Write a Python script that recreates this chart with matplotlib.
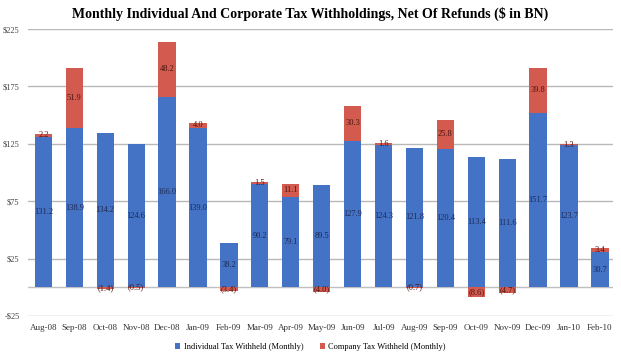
import numpy as np
import matplotlib.pyplot as plt

# monthly withholdings, $ bn
months = ["Aug-08", "Sep-08", "Oct-08", "Nov-08", "Dec-08", "Jan-09", "Feb-09",
          "Mar-09", "Apr-09", "May-09", "Jun-09", "Jul-09", "Aug-09", "Sep-09",
          "Oct-09", "Nov-09", "Dec-09", "Jan-10", "Feb-10"]
individual = [131.2, 138.9, 134.2, 124.6, 166.0, 139.0, 38.2, 90.2, 79.1, 89.5,
              127.9, 124.3, 121.8, 120.4, 113.4, 111.6, 151.7, 123.7, 30.7]
company = [2.2, 51.9, -1.4, -0.5, 48.2, 4.0, -3.4, 1.5, 11.1, -4.0,
           30.3, 1.6, -0.7, 25.8, -8.6, -4.7, 39.8, 1.3, 3.4]
yticks = [-25, 25, 75, 125, 175, 225]
ytick_labels = ["-$25", "$25", "$75", "$125", "$175", "$225"]

plt.rcParams["font.family"] = ["Liberation Serif", "DejaVu Serif"]

blue = "#4472C4"
red = "#D35A4E"

fig = plt.figure(figsize=(6.21, 3.55), dpi=100)
ax = fig.add_axes([0.045, 0.110, 0.942, 0.808])

x = np.arange(len(months))
ind = np.array(individual)
comp = np.array(company)
# excel-style stacking: negatives hang below zero
comp_bottom = np.where(comp >= 0, ind, 0)

ax.bar(x, ind, width=0.56, color=blue, label="Individual Tax Withheld (Monthly)", zorder=2)
ax.bar(x, comp, bottom=comp_bottom, width=0.56, color=red,
       label="Company Tax Withheld (Monthly)", zorder=2)

def fmt(v):
    return "(%.1f)" % abs(v) if v < 0 else "%.1f" % v

for i in range(len(x)):
    ax.text(x[i], ind[i] / 2, fmt(ind[i]), ha="center", va="center",
            fontsize=6, color="#1c2a55", zorder=3)
    ax.text(x[i], comp_bottom[i] + comp[i] / 2, fmt(comp[i]), ha="center",
            va="center", fontsize=6, color="#4a1510", zorder=3)

ax.set_xlim(-0.5, 18.42)
ax.set_ylim(-25, 225)
ax.set_yticks(yticks)
ax.set_yticklabels(ytick_labels, fontsize=6, color="#444444")
ax.set_xticks(x)
ax.set_xticklabels(months, fontsize=6.5, color="#333333")
ax.tick_params(length=0, pad=6)
ax.grid(axis="y", color="#b8b8b8", linewidth=1, zorder=0)
ax.axhline(0, color="#c0c0c0", linewidth=1, zorder=1)
for s in ax.spines.values():
    s.set_visible(False)

fig.suptitle("Monthly Individual And Corporate Tax Withholdings, Net Of Refunds ($ in BN)",
             fontsize=10, fontweight="bold", y=0.98)
fig.legend(loc="lower center", bbox_to_anchor=(0.5, -0.01), ncol=2, frameon=False,
           fontsize=6, handlelength=0.6, handleheight=0.6, columnspacing=2,
           handletextpad=0.4)

plt.savefig("out.png", dpi=100)
